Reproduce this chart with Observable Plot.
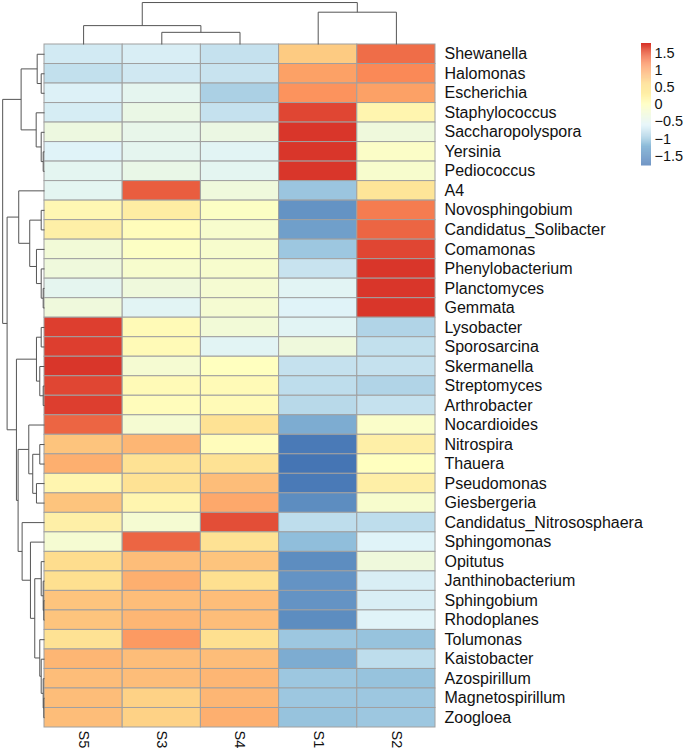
<!DOCTYPE html>
<html>
<head>
<meta charset="utf-8">
<script src="https://cdn.jsdelivr.net/npm/d3@7"></script>
<script src="https://cdn.jsdelivr.net/npm/@observablehq/plot@0.6"></script>
<style>
  body { margin: 0; background: #fff; }
  #wrap { position: relative; width: 685px; height: 749px; }
  #legend { position: absolute; left: 641px; top: 38px; }
</style>
</head>
<body>
<div id="wrap"><div id="chart"></div><div id="legend"></div></div>
<script>
// ---- data ----
const samples = ["S5", "S3", "S4", "S1", "S2"];
const taxa = ["Shewanella","Halomonas","Escherichia","Staphylococcus","Saccharopolyspora","Yersinia","Pediococcus","A4",
  "Novosphingobium","Candidatus_Solibacter","Comamonas","Phenylobacterium","Planctomyces","Gemmata","Lysobacter",
  "Sporosarcina","Skermanella","Streptomyces","Arthrobacter","Nocardioides","Nitrospira","Thauera","Pseudomonas",
  "Giesbergeria","Candidatus_Nitrososphaera","Sphingomonas","Opitutus","Janthinobacterium","Sphingobium","Rhodoplanes",
  "Tolumonas","Kaistobacter","Azospirillum","Magnetospirillum","Zoogloea"];

const S5 = [-0.70,-0.82,-0.62,-0.67,-0.35,-0.60,-0.52,-0.52, 0.15, 0.30,-0.25,-0.30,-0.50,-0.30, 1.70, 1.70, 1.75, 1.65, 1.70, 1.45,
             0.80, 0.95, 0.20, 0.80, 0.30,-0.20, 0.62, 0.60, 0.80, 0.80, 0.55, 0.90, 0.85, 0.85, 0.85];
const S3 = [-0.65,-0.72,-0.50,-0.40,-0.45,-0.50,-0.42, 1.50, 0.35, 0.05,-0.05,-0.15,-0.30,-0.55, 0.10, 0.10,-0.20, 0.10, 0.05,-0.20,
             0.90, 0.55, 0.55, 0.20,-0.20, 1.45, 0.85, 0.95, 0.85, 0.90, 1.10, 0.85, 0.85, 0.70, 0.70];
const S4 = [-0.80,-0.78,-1.00,-0.80,-0.38,-0.55,-0.52,-0.30,-0.05,-0.15,-0.15,-0.15,-0.20,-0.20,-0.25,-0.55, 0.00, 0.10, 0.10, 0.55,
             0.05, 0.55, 0.85, 1.00, 1.60, 0.55, 0.80, 0.60, 0.85, 0.85, 0.60, 0.85, 0.90, 0.90, 0.95];
const S1 = [ 0.75, 1.05, 1.15, 1.65, 1.75, 1.75, 1.75,-1.12,-1.55,-1.45,-1.10,-0.78,-0.55,-0.60,-0.55,-0.30,-0.80,-0.85,-0.90,-1.35,
            -1.75,-1.79,-1.75,-1.60,-0.85,-1.20,-1.60,-1.55,-1.55,-1.60,-1.10,-1.35,-1.10,-1.10,-1.15];
const S2 = [ 1.40, 1.22, 1.05, 0.20,-0.30,-0.08,-0.15, 0.50, 1.30, 1.45, 1.65, 1.75, 1.75, 1.75,-0.95,-0.82,-0.80,-0.95,-0.80,-0.10,
             0.30, 0.00, 0.30,-0.15,-0.85,-0.60,-0.30,-0.65,-0.65,-0.60,-1.15,-0.85,-1.15,-1.10,-1.10];
const series = [S5, S3, S4, S1, S2];

// hierarchical clustering merges: [left, right, height]; a string is a leaf, a number refers to an earlier merge
const colMerges = [["S3","S4",0.29], ["S5",0,0.45], ["S1","S2",0.77], [1,2,1.0]];
const rowMerges = [
  ["Halomonas","Escherichia",0.079], ["Shewanella",0,0.175], ["Yersinia","Pediococcus",0.031],
  ["Saccharopolyspora",2,0.079], ["Staphylococcus",3,0.199], [1,4,0.559],
  ["Novosphingobium","Candidatus_Solibacter",0.079], ["Planctomyces","Gemmata",0.031], ["Phenylobacterium",7,0.079],
  ["Comamonas",8,0.192], [6,9,0.353], ["A4",10,0.616],
  ["Lysobacter","Sporosarcina",0.079], ["Streptomyces","Arthrobacter",0.031], ["Skermanella",13,0.113], [12,14,0.192],
  ["Nitrospira","Thauera",0.113], ["Pseudomonas","Giesbergeria",0.192], [16,17,0.281], ["Nocardioides",18,0.376],
  ["Sphingobium","Rhodoplanes",0.017], ["Janthinobacterium",20,0.031], ["Opitutus",21,0.079],
  ["Magnetospirillum","Zoogloea",0.017], ["Azospirillum",23,0.031], ["Kaistobacter",24,0.079], ["Tolumonas",25,0.113],
  [22,26,0.233], ["Sphingomonas",27,0.336], ["Candidatus_Nitrososphaera",28,0.535], [19,29,0.631],
  [15,30,0.671], [11,31,0.894], [5,32,1.0]
];

const legendTicks = [-1.5, -1, -0.5, 0, 0.5, 1, 1.5];
const palette = ["#4575B4","#91BFDB","#E0F3F8","#FFFFBF","#FEE090","#FC8D59","#D73027"];
const lo = -1.79, hi = 1.79;

// ---- build ----
const cells = [];
taxa.forEach((t, r) => samples.forEach((s, c) => cells.push({r, c, v: series[c][r]})));

function treeSegments(merges, names) {
  const idx = new Map(names.map((n, i) => [n, i + 0.5]));
  const pos = [], segs = [];
  const get = k => typeof k === "string" ? {p: idx.get(k), h: 0} : {p: pos[k], h: merges[k][2]};
  merges.forEach(([a, b, h], i) => {
    const A = get(a), B = get(b);
    pos[i] = (A.p + B.p) / 2;
    segs.push({p1: A.p, p2: A.p, h1: A.h, h2: h});
    segs.push({p1: B.p, p2: B.p, h1: B.h, h2: h});
    segs.push({p1: A.p, p2: B.p, h1: h, h2: h});
  });
  return segs;
}
const rowSegs = treeSegments(rowMerges, taxa);
const colSegs = treeSegments(colMerges, samples);

const ROW_TREE = 0.535; // depth of row tree in column units
const COL_TREE = 2.15;  // depth of column tree in row units

const colorDomain = palette.map((_, i) => lo + (hi - lo) * i / (palette.length - 1));
const color = {type: "linear", domain: colorDomain, range: palette, interpolate: "rgb"};
const font = "'Liberation Sans', Arial, Helvetica, sans-serif";

const chart = Plot.plot({
  width: 685, height: 749,
  marginTop: 0, marginBottom: 0, marginLeft: 0, marginRight: 0,
  style: {fontFamily: font, background: "white"},
  x: {domain: [0, samples.length], range: [44, 435], axis: null},
  y: {domain: [0, taxa.length], range: [44, 727], axis: null},
  color,
  marks: [
    Plot.rect(cells, {x1: d => d.c, x2: d => d.c + 1, y1: d => d.r, y2: d => d.r + 1, fill: "v", stroke: "#a0a0a0", strokeWidth: 1}),
    Plot.link(rowSegs, {x1: d => -d.h1 * ROW_TREE, x2: d => -d.h2 * ROW_TREE, y1: "p1", y2: "p2", stroke: "#555", strokeWidth: 1}),
    Plot.link(colSegs, {x1: "p1", x2: "p2", y1: d => -d.h1 * COL_TREE, y2: d => -d.h2 * COL_TREE, stroke: "#555", strokeWidth: 1}),
    Plot.text(taxa, {x: () => samples.length, y: (d, i) => i + 0.5, text: d => d, textAnchor: "start", dx: 9, fontSize: 16, fill: "#111"}),
    Plot.text(samples, {x: (d, i) => i + 0.5, y: () => taxa.length, text: d => d, rotate: 90, textAnchor: "start", lineAnchor: "middle", dy: 3, fontSize: 14.5, fill: "#111"})
  ]
});
document.getElementById("chart").append(chart);

const steps = d3.range(120).map(i => ({a: lo + (hi - lo) * i / 120, b: lo + (hi - lo) * (i + 1) / 120}));
const legend = Plot.plot({
  width: 44, height: 132.4,
  marginTop: 5, marginBottom: 5, marginLeft: 0, marginRight: 34,
  style: {fontFamily: font, background: "transparent", overflow: "visible"},
  x: {domain: [0, 1], axis: null},
  y: {domain: [lo, hi], axis: null},
  color,
  marks: [
    Plot.rect(steps, {x1: 0, x2: 1, y1: "a", y2: "b", fill: d => (d.a + d.b) / 2}),
    Plot.axisY(legendTicks, {anchor: "right", tickSize: 0, tickPadding: 3, fontSize: 14.5, label: null,
      tickFormat: d => String(d).replace("-", "\u2212"), fill: "#111"})
  ]
});
document.getElementById("legend").append(legend);
</script>
</body>
</html>
